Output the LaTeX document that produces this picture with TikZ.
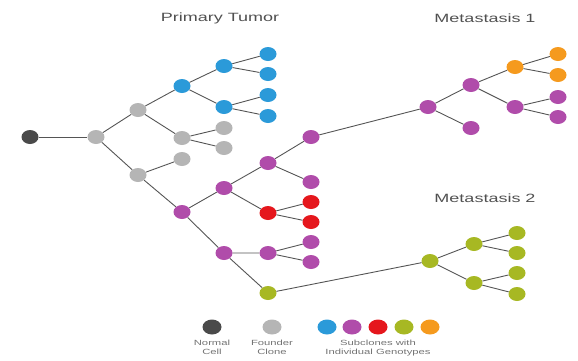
\documentclass[tikz,border=0pt]{standalone}
\usepackage{fontspec}
\usepackage{tikz}
\usetikzlibrary{positioning,shapes.geometric}
\newfontfamily\figfont[FakeStretch=1.5]{Liberation Sans}
\definecolor{normalc}{HTML}{4A4A4A}
\definecolor{founderc}{HTML}{B5B5B5}
\definecolor{bluec}{HTML}{2B9AD9}
\definecolor{purplec}{HTML}{B04CAA}
\definecolor{redc}{HTML}{E5171D}
\definecolor{greenc}{HTML}{A7B823}
\definecolor{orangec}{HTML}{F59A1E}
\definecolor{linec}{HTML}{555555}
\definecolor{textc}{HTML}{505050}

\begin{document}
\begin{tikzpicture}[
  x=1pt, y=-1pt,
  cell/.style={ellipse, draw=none, inner sep=0pt, minimum width=17pt, minimum height=14pt},
  key/.style ={ellipse, draw=none, inner sep=0pt, minimum width=19pt, minimum height=15pt},
  link/.style={draw=linec, line width=0.9pt},
  title/.style={font=\figfont\fontsize{12}{14}\selectfont, text=textc},
  note/.style={font=\figfont\fontsize{7.5}{9}\selectfont, text=textc!80, align=center},
]
  \useasboundingbox (0,0) rectangle (578,360);

  \node[title] (ttumor) at (220,18)  {Primary Tumor};
  \node[title] (tmet1)  at (485,18)  {Metastasis 1};
  \node[title] (tmet2)  at (485,198) {Metastasis 2};

  % primary tumor
  \node[cell, fill=normalc]  (normal) at (30,137)  {};
  \node[cell, fill=founderc] (f1)     at (96,137)  {};
  \node[cell, fill=founderc] (f2)     at (138,110) {};
  \node[cell, fill=founderc] (f3)     at (138,175) {};
  \node[cell, fill=founderc] (f4)     at (182,138) {};
  \node[cell, fill=founderc] (f5)     at (224,128) {};
  \node[cell, fill=founderc] (f6)     at (224,148) {};
  \node[cell, fill=founderc] (f7)     at (182,159) {};
  \node[cell, fill=bluec]    (b1)     at (182,86)  {};
  \node[cell, fill=bluec]    (b2)     at (224,66)  {};
  \node[cell, fill=bluec]    (b3)     at (224,107) {};
  \node[cell, fill=bluec]    (b4)     at (268,54)  {};
  \node[cell, fill=bluec]    (b5)     at (268,74)  {};
  \node[cell, fill=bluec]    (b6)     at (268,95)  {};
  \node[cell, fill=bluec]    (b7)     at (268,116) {};
  \node[cell, fill=purplec]  (m1)     at (182,212) {};
  \node[cell, fill=purplec]  (m2)     at (224,188) {};
  \node[cell, fill=purplec]  (m3)     at (268,163) {};
  \node[cell, fill=purplec]  (m4)     at (311,137) {};
  \node[cell, fill=purplec]  (m5)     at (311,182) {};
  \node[cell, fill=redc]     (r1)     at (268,213) {};
  \node[cell, fill=redc]     (r2)     at (311,202) {};
  \node[cell, fill=redc]     (r3)     at (311,222) {};
  \node[cell, fill=purplec]  (m6)     at (224,253) {};
  \node[cell, fill=purplec]  (m7)     at (268,253) {};
  \node[cell, fill=purplec]  (m8)     at (311,242) {};
  \node[cell, fill=purplec]  (m9)     at (311,262) {};
  \node[cell, fill=greenc]   (g1)     at (268,293) {};

  % metastasis 1
  \node[cell, fill=purplec]  (p1)     at (428,107) {};
  \node[cell, fill=purplec]  (p2)     at (471,85)  {};
  \node[cell, fill=purplec]  (p3)     at (471,128) {};
  \node[cell, fill=orangec]  (o1)     at (515,67)  {};
  \node[cell, fill=orangec]  (o2)     at (558,54)  {};
  \node[cell, fill=orangec]  (o3)     at (558,75)  {};
  \node[cell, fill=purplec]  (p4)     at (515,107) {};
  \node[cell, fill=purplec]  (p5)     at (558,97)  {};
  \node[cell, fill=purplec]  (p6)     at (558,117) {};

  % metastasis 2
  \node[cell, fill=greenc]   (q1)     at (430,261) {};
  \node[cell, fill=greenc]   (q2)     at (474,244) {};
  \node[cell, fill=greenc]   (q3)     at (474,283) {};
  \node[cell, fill=greenc]   (q4)     at (517,233) {};
  \node[cell, fill=greenc]   (q5)     at (517,253) {};
  \node[cell, fill=greenc]   (q6)     at (517,273) {};
  \node[cell, fill=greenc]   (q7)     at (517,294) {};

  \draw[link] (normal) -- (f1);
  \draw[link] (f1) -- (f2)  (f1) -- (f3);
  \draw[link] (f2) -- (b1)  (f2) -- (f4);
  \draw[link] (b1) -- (b2)  (b1) -- (b3);
  \draw[link] (b2) -- (b4)  (b2) -- (b5);
  \draw[link] (b3) -- (b6)  (b3) -- (b7);
  \draw[link] (f4) -- (f5)  (f4) -- (f6);
  \draw[link] (f3) -- (f7)  (f3) -- (m1);
  \draw[link] (m1) -- (m2)  (m1) -- (m6);
  \draw[link] (m2) -- (m3)  (m2) -- (r1);
  \draw[link] (m3) -- (m4)  (m3) -- (m5);
  \draw[link] (r1) -- (r2)  (r1) -- (r3);
  \draw[link] (m6) -- (m7)  (m6) -- (g1);
  \draw[link] (m7) -- (m8)  (m7) -- (m9);
  \draw[link] (m4) -- (p1);
  \draw[link] (p1) -- (p2)  (p1) -- (p3);
  \draw[link] (p2) -- (o1)  (p2) -- (p4);
  \draw[link] (o1) -- (o2)  (o1) -- (o3);
  \draw[link] (p4) -- (p5)  (p4) -- (p6);
  \draw[link] (g1) -- (q1);
  \draw[link] (q1) -- (q2)  (q1) -- (q3);
  \draw[link] (q2) -- (q4)  (q2) -- (q5);
  \draw[link] (q3) -- (q6)  (q3) -- (q7);

  % legend
  \node[key, fill=normalc]  (knormal)  at (212,327) {};
  \node[key, fill=founderc] (kfounder) at (272,327) {};
  \node[key, fill=bluec]    (kblue)    at (327,327) {};
  \node[key, fill=purplec]  (kpurple)  at (352,327) {};
  \node[key, fill=redc]     (kred)     at (378,327) {};
  \node[key, fill=greenc]   (kgreen)   at (404,327) {};
  \node[key, fill=orangec]  (korange)  at (430,327) {};
  \node[note, below=2pt of knormal]  (lnormal)  {Normal\\Cell};
  \node[note, below=2pt of kfounder] (lfounder) {Founder\\Clone};
  \node[note, below=2pt of kred]     (lsub)     {Subclones with\\Individual Genotypes};
\end{tikzpicture}
\end{document}
